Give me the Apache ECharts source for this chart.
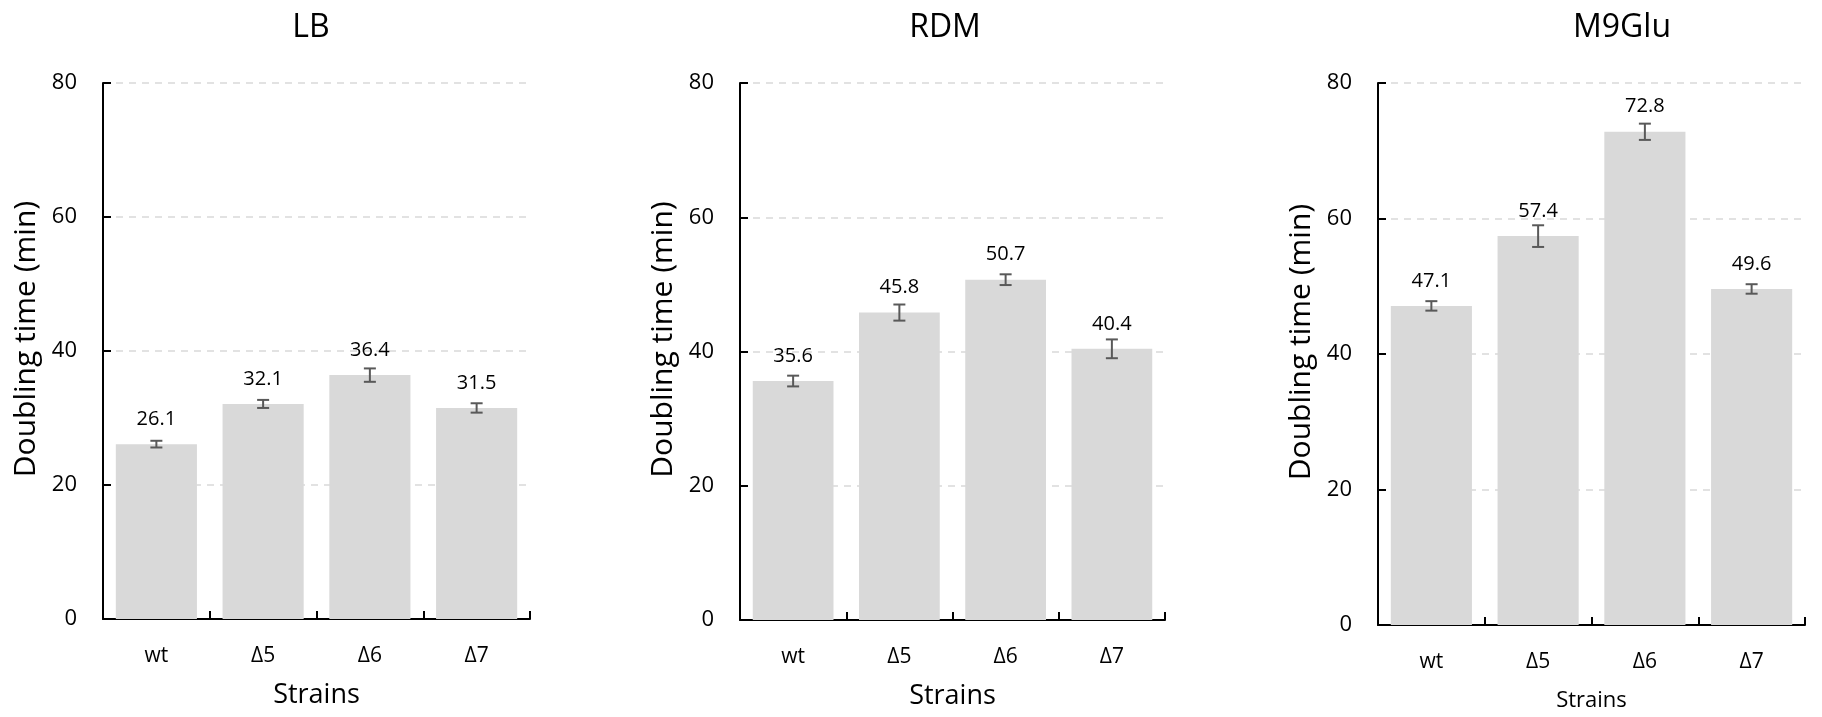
<!DOCTYPE html>
<html>
<head>
<meta charset="utf-8">
<script src="https://cdn.jsdelivr.net/npm/echarts@6/dist/echarts.min.js"></script>
<style>
html,body{margin:0;padding:0;background:#fff;}
#chart{width:1822px;height:717px;}
</style>
</head>
<body>
<div id="chart"></div>
<script>
const categories = ['wt', 'Δ5', 'Δ6', 'Δ7'];
const panelTitles = ['LB', 'RDM', 'M9Glu'];
const yTicks = [0, 20, 40, 60, 80];
const lbValues = [26.1, 32.1, 36.4, 31.5];
const lbErrors = [0.5, 0.6, 1.0, 0.7];
const rdmValues = [35.6, 45.8, 50.7, 40.4];
const rdmErrors = [0.8, 1.2, 0.8, 1.4];
const m9Values = [47.1, 57.4, 72.8, 49.6];
const m9Errors = [0.7, 1.6, 1.2, 0.7];
const yAxisName = 'Doubling time (min)';
const xAxisName = 'Strains';

const values = [lbValues, rdmValues, m9Values];
const errors = [lbErrors, rdmErrors, m9Errors];

const FONT = '"Open Sans", "Noto Sans", sans-serif';
const grids = [
  {left: 103, top: 83, width: 427, height: 536},
  {left: 740, top: 83, width: 425, height: 537},
  {left: 1378, top: 83, width: 427, height: 543}
];
const yNameGap = [62, 62, 62];
const xNameGap = [63, 63, 65];
const xNameSize = [27, 27, 22];
const titleCenters = [306, 940, 1617];

const chart = echarts.init(document.getElementById('chart'), null, {renderer: 'canvas'});

const option = {
  backgroundColor: '#ffffff',
  animation: false,
  title: panelTitles.map((t, i) => ({
    text: t,
    left: titleCenters[i],
    top: 7,
    textAlign: 'center',
    textStyle: {fontFamily: FONT, fontSize: 32, fontWeight: 'normal', color: '#000'}
  })),
  grid: grids,
  xAxis: grids.map((g, i) => ({
    type: 'category',
    gridIndex: i,
    data: categories,
    name: xAxisName,
    nameLocation: 'middle',
    nameGap: xNameGap[i],
    nameTextStyle: {fontFamily: FONT, fontSize: xNameSize[i], color: '#000'},
    axisLine: {lineStyle: {color: '#000', width: 2}},
    axisTick: {show: true, inside: true, length: 8, lineStyle: {color: '#000', width: 2}},
    axisLabel: {fontFamily: FONT, fontSize: 21, color: '#000', margin: 27},
    splitLine: {show: false}
  })),
  yAxis: grids.map((g, i) => ({
    type: 'value',
    gridIndex: i,
    min: yTicks[0],
    max: yTicks[yTicks.length - 1],
    interval: yTicks[1] - yTicks[0],
    name: yAxisName,
    nameLocation: 'middle',
    nameGap: yNameGap[i],
    nameRotate: 90,
    nameTextStyle: {fontFamily: FONT, fontSize: 30, color: '#000', padding: [0, 0, 0, 24]},
    axisLine: {show: true, lineStyle: {color: '#000', width: 2}},
    axisTick: {show: true, inside: true, length: 8, lineStyle: {color: '#000', width: 2}},
    axisLabel: {fontFamily: FONT, fontSize: 22, color: '#000', margin: 26},
    splitLine: {show: true, lineStyle: {color: '#d9d9d9', width: 1.5, type: [7, 6]}}
  })),
  series: []
};

values.forEach((vals, i) => {
  option.series.push({
    type: 'bar',
    xAxisIndex: i,
    yAxisIndex: i,
    data: vals,
    barCategoryGap: '24%',
    itemStyle: {color: '#d9d9d9'},
    label: {
      show: true,
      position: 'top',
      distance: 15,
      fontFamily: FONT,
      fontSize: 20,
      color: '#000',
      formatter: p => p.value.toFixed(1)
    },
    z: 2
  });
  option.series.push({
    type: 'custom',
    xAxisIndex: i,
    yAxisIndex: i,
    data: vals.map((v, k) => [k, v, errors[i][k]]),
    z: 5,
    renderItem: function (params, api) {
      const x = api.value(0), y = api.value(1), e = api.value(2);
      const top = api.coord([x, y + e]);
      const bot = api.coord([x, y - e]);
      const hw = 6;
      const style = {stroke: '#595959', lineWidth: 2};
      return {
        type: 'group',
        children: [
          {type: 'line', shape: {x1: top[0], y1: top[1], x2: bot[0], y2: bot[1]}, style: style},
          {type: 'line', shape: {x1: top[0] - hw, y1: top[1], x2: top[0] + hw, y2: top[1]}, style: style},
          {type: 'line', shape: {x1: bot[0] - hw, y1: bot[1], x2: bot[0] + hw, y2: bot[1]}, style: style}
        ]
      };
    }
  });
});

chart.setOption(option);
</script>
</body>
</html>
